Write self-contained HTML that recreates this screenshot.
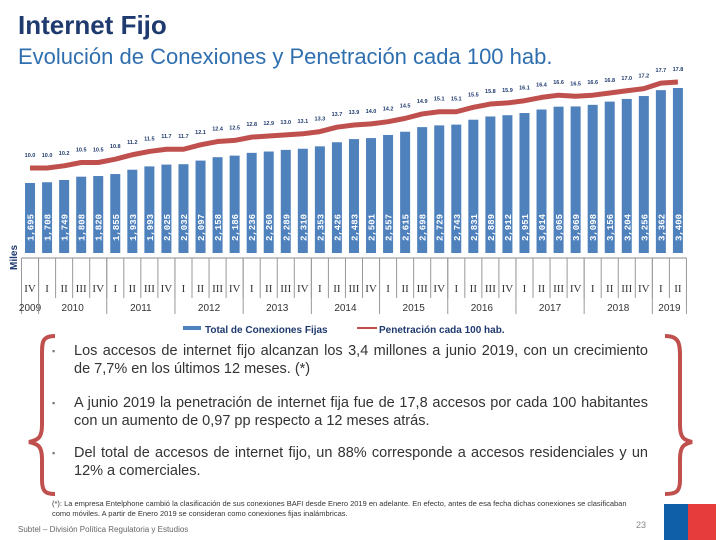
<!DOCTYPE html>
<html><head><meta charset="utf-8"><style>
body{margin:0;width:720px;height:540px;overflow:hidden;background:#fff;font-family:"Liberation Sans",sans-serif;position:relative}
.t{position:absolute;margin:0}
</style></head><body>
<div class="t" style="left:18px;top:10px;font-size:26px;font-weight:bold;color:#1f3a6e">Internet Fijo</div>
<div class="t" style="left:18px;top:44px;font-size:22px;color:#2f6fb0">Evolución de Conexiones y Penetración cada 100 hab.</div>
<svg id="chart" width="720" height="540" style="position:absolute;left:0;top:0" xmlns="http://www.w3.org/2000/svg"></svg>
<div class="t" style="left:52px;top:342px;width:596px;font-size:14.5px;color:#333;line-height:18px;text-align:justify"><span style="position:absolute;left:0;font-size:9px;color:#777">▪</span><div style="margin-left:22px">Los accesos de internet fijo alcanzan los 3,4 millones a junio 2019, con un crecimiento de 7,7% en los últimos 12 meses. (*)</div></div>
<div class="t" style="left:52px;top:394px;width:596px;font-size:14.5px;color:#333;line-height:18px;text-align:justify"><span style="position:absolute;left:0;font-size:9px;color:#777">▪</span><div style="margin-left:22px">A junio 2019 la penetración de internet fija fue de 17,8 accesos por cada 100 habitantes con un aumento de 0,97 pp respecto a 12 meses atrás.</div></div>
<div class="t" style="left:52px;top:444px;width:596px;font-size:14.5px;color:#333;line-height:18px;text-align:justify"><span style="position:absolute;left:0;font-size:9px;color:#777">▪</span><div style="margin-left:22px">Del total de accesos de internet fijo, un 88% corresponde a accesos residenciales y un 12% a comerciales.</div></div>
<div class="t" style="left:52px;top:499px;width:580px;font-size:7.5px;color:#333;line-height:10px">(*): La empresa Entelphone cambió la clasificación de sus conexiones BAFI desde Enero 2019 en adelante. En efecto, antes de esa fecha dichas conexiones se clasificaban como móviles. A partir de Enero 2019 se consideran como conexiones fijas inalámbricas.</div>
<div class="t" style="left:18px;top:525px;font-size:8px;color:#666">Subtel – División Política Regulatoria y Estudios</div>
<div class="t" style="left:636px;top:520px;font-size:9px;color:#888">23</div>
<div class="t" style="left:664px;top:504px;width:24px;height:36px;background:#0f5ea8"></div>
<div class="t" style="left:688px;top:504px;width:28px;height:36px;background:#e63c3c"></div>
<script>
const subs=[1695,1708,1749,1808,1820,1855,1933,1993,2025,2032,2097,2158,2186,2236,2260,2289,2310,2353,2426,2483,2501,2557,2615,2698,2729,2743,2831,2889,2912,2951,3014,3065,3069,3098,3156,3204,3256,3362,3400];
const pen=[10.0,10.0,10.2,10.5,10.5,10.8,11.2,11.5,11.7,11.7,12.1,12.4,12.5,12.8,12.9,13.0,13.1,13.3,13.7,13.9,14.0,14.2,14.5,14.9,15.1,15.1,15.5,15.8,15.9,16.1,16.4,16.6,16.5,16.6,16.8,17.0,17.2,17.7,17.8];
const quarters=["IV","I","II","III","IV","I","II","III","IV","I","II","III","IV","I","II","III","IV","I","II","III","IV","I","II","III","IV","I","II","III","IV","I","II","III","IV","I","II","III","IV","I","II"];
const years=["2009","2010","2011","2012","2013","2014","2015","2016","2017","2018","2019"];
const yearCounts=[1,4,4,4,4,4,4,4,4,4,2];
const svg=document.getElementById('chart');const NS="http://www.w3.org/2000/svg";
function mk(t,a,txt){const e=document.createElementNS(NS,t);for(const k in a)e.setAttribute(k,a[k]);if(txt!==undefined)e.textContent=txt;svg.appendChild(e);return e;}
const x0=21.5,step=17.05,bw=10,base=253;
const xc=i=>x0+step*(i+0.5);
const yb=v=>base-(v-438)*0.0557;
const yl=v=>168-(v-10)*11.03;
subs.forEach((v,i)=>{
 const r=mk('rect',{x:xc(i)-bw/2,y:yb(v),width:bw,height:base-yb(v),fill:'#4f81bd'});
 
 
 const t=mk('text',{x:0,y:0,transform:`translate(${xc(i)+3.5},${base-12}) rotate(-90)`,'font-size':'9','font-weight':'bold','font-family':'Liberation Mono',fill:'#ffffff'},v.toLocaleString('en-US'));
 
 
});
const pts=pen.map((v,i)=>xc(i)+','+yl(v)).join(' ');
const pl=mk('polyline',{points:pts,fill:'none',stroke:'#c0504d','stroke-width':5,'stroke-linejoin':'round'});


pen.forEach((v,i)=>{
 const t=mk('text',{x:xc(i),y:yl(v)-11,'text-anchor':'middle','font-size':'5.5','font-weight':'bold',fill:'#1f3a6e'},v.toFixed(1));
 
 
});
const left=x0,right=x0+step*subs.length;
mk('line',{x1:left,y1:258,x2:right,y2:258,stroke:'#888'});
quarters.forEach((q,i)=>{
 const t=mk('text',{x:xc(i),y:292,'text-anchor':'middle','font-size':'11','font-family':'Liberation Serif',fill:'#333'},q);
 
 
 mk('line',{x1:left+step*i,y1:258,x2:left+step*i,y2:298,stroke:'#999'});
});
let acc=0;
years.forEach((y,k)=>{
 const s=acc,e=acc+yearCounts[k];
 mk('line',{x1:left+step*s,y1:258,x2:left+step*s,y2:314,stroke:'#999'});
 const t=mk('text',{x:left+step*(s+e)/2,y:311,'text-anchor':'middle','font-size':'10',fill:'#333'},y);
 
 
 acc=e;
});
mk('line',{x1:right,y1:258,x2:right,y2:314,stroke:'#999'});
const ya=mk('text',{x:0,y:0,transform:'translate(17,270) rotate(-90)','font-size':'10','font-weight':'bold',fill:'#1f3a6e'},'Miles');

const lg1=mk('rect',{x:183,y:326,width:18,height:4,fill:'#4f81bd'});

const lt1=mk('text',{x:205,y:333,'font-size':'10','font-weight':'bold',fill:'#1f3a6e'},'Total de Conexiones Fijas');

const lg2=mk('line',{x1:357,y1:328,x2:377,y2:328,stroke:'#c0504d','stroke-width':2});

const lt2=mk('text',{x:379,y:333,'font-size':'10','font-weight':'bold',fill:'#1f3a6e'},'Penetración cada 100 hab.');

const b1=mk('path',{d:'M55,336 C42,336 42,342 42,355 L42,425 C42,438 38,440 29,442 C38,444 42,446 42,459 L42,480 C42,492 46,494 55,494',fill:'none',stroke:'#c0504d','stroke-width':4});

const b2=mk('path',{d:'M665,336 C678,336 680,342 680,355 L680,425 C680,438 684,440 692,442 C684,444 680,446 680,459 L680,480 C680,492 676,494 665,494',fill:'none',stroke:'#c0504d','stroke-width':4});

</script>
</body></html>
